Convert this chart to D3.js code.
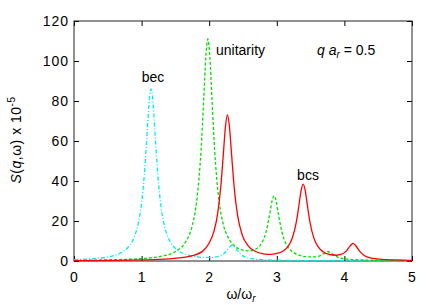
<!DOCTYPE html>
<html>
<head>
  <meta charset="utf-8">
  <script src="https://d3js.org/d3.v7.min.js"></script>
  <style>
    body { margin: 0; background: #fff; }
    text { font-family: "Liberation Sans", Arial, sans-serif; }
  </style>
</head>
<body>
<div id="chart"></div>
<script>
    var width = 436;
    var height = 305;

    // values (omega / omega_r, S x 1e-5)
    var becW = [0, 0.3, 0.5, 0.7, 0.8, 0.9, 0.95, 1.0, 1.04, 1.07, 1.1, 1.12, 1.14, 1.16, 1.18, 1.21, 1.24, 1.29, 1.34, 1.4,
                1.5, 1.6, 1.75, 1.9, 2.05, 2.15, 2.22, 2.28, 2.34, 2.4, 2.46, 2.55, 2.7, 2.9, 3.2, 3.6, 4.0, 4.5, 5.0];
    var becS = [0.67, 1.22, 2.02, 4.24, 6.87, 12.7, 18.7, 29.1, 43.0, 57.7, 74.1, 82.7, 86.0, 82.7, 74.1, 57.7, 43.1, 26.5, 17.3, 11.2,
                6.26, 4.01, 2.46, 1.82, 1.82, 2.44, 3.76, 6.1, 8.0, 5.97, 3.52, 1.8, 0.88, 0.51, 0.30, 0.19, 0.14, 0.10, 0.07];

    var uniW = [0, 0.5, 1.0, 1.3, 1.5, 1.65, 1.75, 1.82, 1.88, 1.92, 1.95, 1.98, 2.01, 2.04, 2.08, 2.14, 2.2, 2.28, 2.38, 2.5,
                2.6, 2.7, 2.78, 2.84, 2.9, 2.93, 2.96, 2.99, 3.02, 3.08, 3.14, 3.22, 3.32, 3.45, 3.56, 3.64, 3.7, 3.76, 3.82, 3.9,
                4.0, 4.2, 4.5, 5.0];
    var uniS = [0.32, 0.56, 1.23, 2.46, 4.76, 9.5, 17.8, 31.3, 55.6, 81.6, 101.8, 111.0, 101.9, 81.8, 55.8, 31.6, 19.5, 11.8, 7.45, 5.4,
                5.1, 6.15, 9.16, 14.4, 24.4, 30.1, 32.6, 29.9, 24.2, 13.9, 8.32, 4.89, 3.05, 2.13, 2.05, 2.62, 3.72, 4.63, 3.54, 1.93,
                1.12, 0.61, 0.37, 0.22];

    var bcsW = [0, 0.5, 1.0, 1.4, 1.7, 1.9, 2.0, 2.07, 2.12, 2.17, 2.21, 2.24, 2.27, 2.3, 2.33, 2.37, 2.42, 2.49, 2.57, 2.68,
                2.8, 2.92, 3.02, 3.1, 3.17, 3.23, 3.29, 3.33, 3.36, 3.39, 3.42, 3.45, 3.49, 3.55, 3.61, 3.69, 3.78, 3.88, 3.96, 4.03,
                4.08, 4.13, 4.18, 4.23, 4.3, 4.4, 4.55, 4.75, 5.0];
    var bcsS = [0.18, 0.28, 0.52, 1.04, 2.26, 4.82, 8.98, 14.8, 22.6, 36.6, 53.8, 67.0, 73.0, 67.0, 53.8, 36.7, 22.8, 12.9, 7.85, 4.85,
                3.59, 3.32, 3.88, 5.11, 7.42, 11.5, 19.7, 28.5, 35.3, 38.4, 35.3, 28.4, 19.5, 11.3, 7.14, 4.52, 3.25, 2.88, 3.41, 5.08,
                7.32, 8.79, 7.11, 4.67, 2.66, 1.48, 0.84, 0.52, 0.35];

    var xTicks = [0, 1, 2, 3, 4, 5];
    var yTicks = [0, 20, 40, 60, 80, 100, 120];

    // plot frame in pixels (window.top is reserved, hence the prefix)
    var pLeft = 74, pRight = 412, pTop = 21, pBottom = 261;

    var x = d3.scaleLinear().domain([0, 5]).range([pLeft, pRight]);
    var y = d3.scaleLinear().domain([0, 120]).range([pBottom, pTop]);

    var svg = d3.select("#chart").append("svg")
        .attr("width", width).attr("height", height);

    // ticks pointing inwards, labels only on bottom and left
    svg.append("g").attr("transform", "translate(0," + pBottom + ")")
       .call(d3.axisBottom(x).tickValues(xTicks).tickFormat(d3.format("d"))
             .tickSizeInner(-5).tickSizeOuter(0).tickPadding(11))
       .call(g => g.select(".domain").remove());
    svg.append("g").attr("transform", "translate(0," + pTop + ")")
       .call(d3.axisTop(x).tickValues(xTicks).tickSizeInner(-5).tickSizeOuter(0).tickFormat(""))
       .call(g => g.select(".domain").remove());
    svg.append("g").attr("transform", "translate(" + pLeft + ",0)")
       .call(d3.axisLeft(y).tickValues(yTicks).tickFormat(d3.format("d"))
             .tickSizeInner(-5).tickSizeOuter(0).tickPadding(5))
       .call(g => g.select(".domain").remove());
    svg.append("g").attr("transform", "translate(" + pRight + ",0)")
       .call(d3.axisRight(y).tickValues(yTicks).tickSizeInner(-5).tickSizeOuter(0).tickFormat(""))
       .call(g => g.select(".domain").remove());

    svg.selectAll(".tick text").attr("font-size", 14).attr("fill", "#000")
       .attr("letter-spacing", 1)
       .style("font-family", "Liberation Sans, Arial, sans-serif");
    svg.selectAll(".tick line").attr("stroke", "#000");

    svg.append("rect")
       .attr("x", pLeft).attr("y", pTop)
       .attr("width", pRight - pLeft).attr("height", pBottom - pTop)
       .attr("fill", "none").attr("stroke", "#222").attr("stroke-width", 1);

    var line = d3.line().x(d => x(d[0])).y(d => y(d[1])).curve(d3.curveMonotoneX);

    var curves = [
        { w: becW, s: becS, color: "#00eeee", dash: "4,2,1,2" },
        { w: uniW, s: uniS, color: "#00e000", dash: "3,2" },
        { w: bcsW, s: bcsS, color: "#ff0000", dash: null }
    ];

    curves.forEach(function(c) {
        var pts = c.w.map((w, i) => [w, c.s[i]]);
        svg.append("path")
           .attr("d", line(pts))
           .attr("fill", "none")
           .attr("stroke", c.color)
           .attr("stroke-width", 1.3)
           .attr("stroke-dasharray", c.dash);
    });

    // curve labels
    var lab = function(px, py, txt, anchor) {
        svg.append("text").attr("x", px).attr("y", py)
           .attr("font-size", 14).attr("text-anchor", anchor || "middle").text(txt);
    };
    lab(153, 82, "bec");
    lab(216, 55, "unitarity", "start");
    lab(308, 180, "bcs");

    var qa = svg.append("text").attr("x", 317).attr("y", 55).attr("font-size", 14);
    qa.append("tspan").attr("font-style", "italic").text("q a");
    qa.append("tspan").attr("font-style", "italic").attr("font-size", 10).attr("dy", 3).text("r");
    qa.append("tspan").attr("dy", -3).text(" = 0.5");

    // axis titles
    var xl = svg.append("text").attr("x", 241).attr("y", 299)
        .attr("font-size", 14).attr("text-anchor", "middle");
    xl.append("tspan").text("\u03c9/\u03c9");
    xl.append("tspan").attr("font-style", "italic").attr("font-size", 10).attr("dy", 3).text("r");

    var yl = svg.append("text").attr("transform", "translate(21,140) rotate(-90)")
        .attr("font-size", 14).attr("letter-spacing", 0.5).attr("text-anchor", "middle");
    yl.append("tspan").attr("font-style", "italic").text("S");
    yl.append("tspan").text("(");
    yl.append("tspan").attr("font-style", "italic").text("q");
    yl.append("tspan").text(",\u03c9) x 10");
    yl.append("tspan").attr("font-size", 10).attr("dy", -6).text("-5");
</script>
</body>
</html>
